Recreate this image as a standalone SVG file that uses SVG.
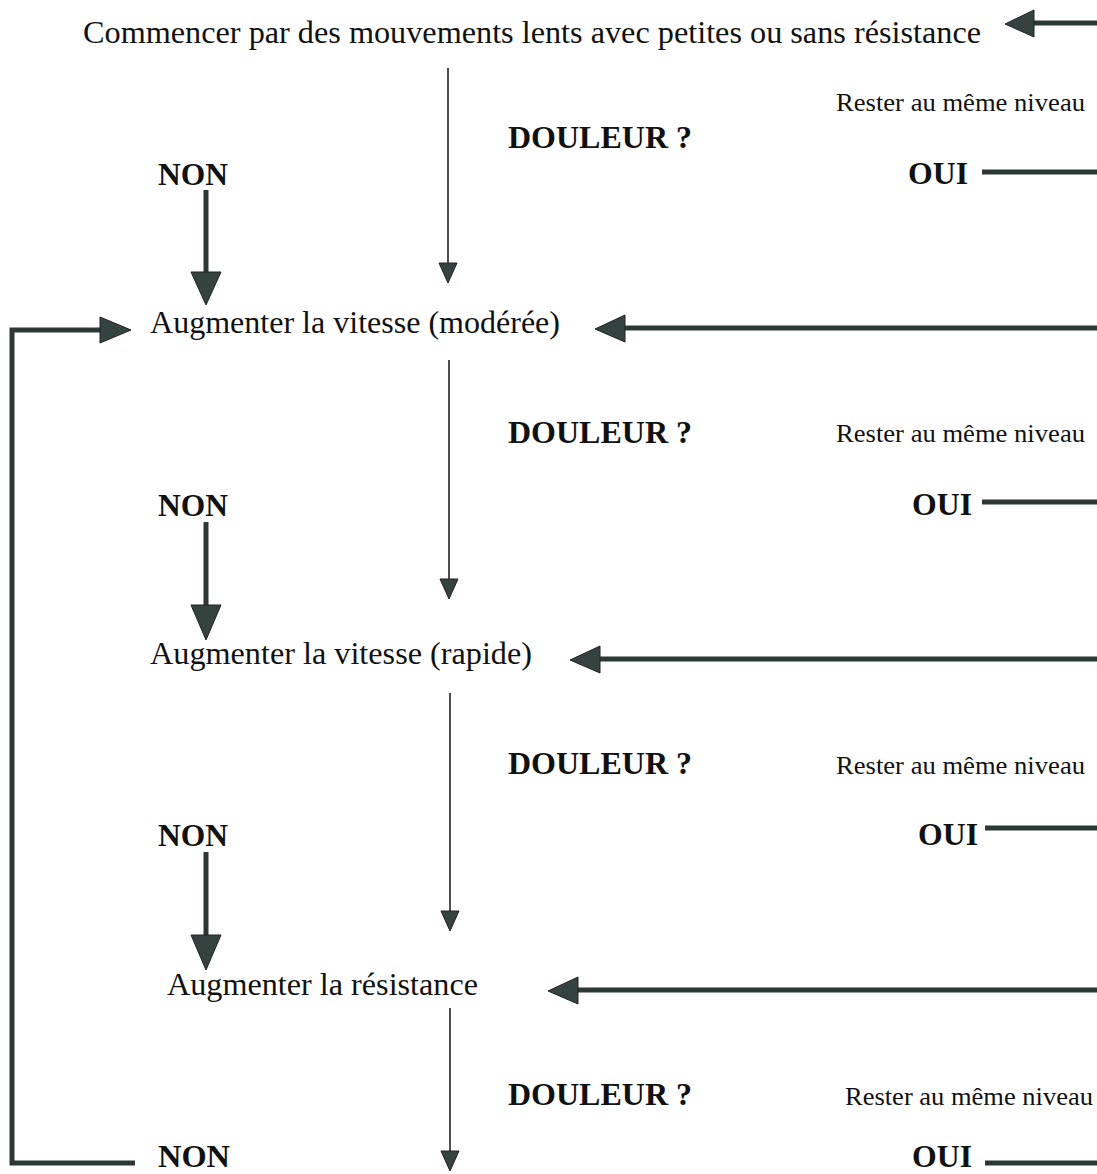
<svg xmlns="http://www.w3.org/2000/svg" width="1097" height="1174" viewBox="0 0 1097 1174">
<style>
.t{font-family:"Liberation Serif","Times New Roman",serif;fill:#111;}
.main{font-size:32px;}
.q{font-size:31px;font-weight:bold;}
.small{font-size:25px;}
.thin{stroke:#222;stroke-width:1.6;fill:none;}
.thick{stroke:#2c3834;stroke-width:5;fill:none;}
.head{fill:#344340;stroke:#222;stroke-width:1;}
</style>
<rect width="1097" height="1174" fill="#fff"/>
<g id="n1"><text class="t main" x="83" y="43" textLength="898" lengthAdjust="spacingAndGlyphs">Commencer par des mouvements lents avec petites ou sans résistance</text></g>
<g id="n2"><text class="t main" x="150" y="333" textLength="410" lengthAdjust="spacingAndGlyphs">Augmenter la vitesse (modérée)</text></g>
<g id="n3"><text class="t main" x="150" y="664" textLength="382" lengthAdjust="spacingAndGlyphs">Augmenter la vitesse (rapide)</text></g>
<g id="n4"><text class="t main" x="167" y="995" textLength="311" lengthAdjust="spacingAndGlyphs">Augmenter la résistance</text></g>
<g id="labels">
<text class="t q" x="508" y="148" textLength="184" lengthAdjust="spacingAndGlyphs">DOULEUR ?</text>
<text class="t small" x="836" y="111" textLength="249" lengthAdjust="spacingAndGlyphs">Rester au même niveau</text>
<text class="t q" x="158" y="185" textLength="70" lengthAdjust="spacingAndGlyphs">NON</text>
<text class="t q" x="908" y="184" textLength="60" lengthAdjust="spacingAndGlyphs">OUI</text>
<text class="t q" x="508" y="443" textLength="184" lengthAdjust="spacingAndGlyphs">DOULEUR ?</text>
<text class="t small" x="836" y="442" textLength="249" lengthAdjust="spacingAndGlyphs">Rester au même niveau</text>
<text class="t q" x="158" y="516" textLength="70" lengthAdjust="spacingAndGlyphs">NON</text>
<text class="t q" x="912" y="515" textLength="60" lengthAdjust="spacingAndGlyphs">OUI</text>
<text class="t q" x="508" y="774" textLength="184" lengthAdjust="spacingAndGlyphs">DOULEUR ?</text>
<text class="t small" x="836" y="774" textLength="249" lengthAdjust="spacingAndGlyphs">Rester au même niveau</text>
<text class="t q" x="158" y="846" textLength="70" lengthAdjust="spacingAndGlyphs">NON</text>
<text class="t q" x="918" y="845" textLength="60" lengthAdjust="spacingAndGlyphs">OUI</text>
<text class="t q" x="508" y="1105" textLength="184" lengthAdjust="spacingAndGlyphs">DOULEUR ?</text>
<text class="t small" x="845" y="1105" textLength="248" lengthAdjust="spacingAndGlyphs">Rester au même niveau</text>
<text class="t q" x="158" y="1167" textLength="72" lengthAdjust="spacingAndGlyphs">NON</text>
<text class="t q" x="912" y="1167" textLength="60" lengthAdjust="spacingAndGlyphs">OUI</text>
</g>
<g id="connectors">
<line class="thin" x1="448" y1="68" x2="448" y2="264"/>
<polygon class="head" points="439,263 457,263 448,283"/>
<line class="thin" x1="449" y1="360" x2="449" y2="580"/>
<polygon class="head" points="440,579 458,579 449,599"/>
<line class="thin" x1="450" y1="693" x2="450" y2="912"/>
<polygon class="head" points="441,911 459,911 450,931"/>
<line class="thin" x1="450" y1="1008" x2="450" y2="1152"/>
<polygon class="head" points="441,1151 459,1151 450,1171"/>
<line class="thick" x1="206" y1="190" x2="206" y2="275"/>
<polygon class="head" points="191,272 221,272 206,305"/>
<line class="thick" x1="206" y1="522" x2="206" y2="608"/>
<polygon class="head" points="191,605 221,605 206,640"/>
<line class="thick" x1="206" y1="852" x2="206" y2="938"/>
<polygon class="head" points="191,935 221,935 206,970"/>
<line class="thick" x1="982" y1="172" x2="1097" y2="172"/>
<line class="thick" x1="982" y1="502" x2="1097" y2="502"/>
<line class="thick" x1="985" y1="828" x2="1097" y2="828"/>
<line class="thick" x1="985" y1="1163" x2="1097" y2="1163"/>
<line class="thick" x1="1097" y1="23" x2="1030" y2="23"/>
<polygon class="head" points="1034,10 1034,37 1005,24"/>
<line class="thick" x1="1097" y1="328" x2="620" y2="328"/>
<polygon class="head" points="625,315 625,342 595,329"/>
<line class="thick" x1="1097" y1="659" x2="595" y2="659"/>
<polygon class="head" points="600,646 600,673 570,660"/>
<line class="thick" x1="1097" y1="990" x2="573" y2="990"/>
<polygon class="head" points="578,977 578,1004 548,991"/>
<polyline class="thick" points="135,1163 12,1163 12,330 104,330"/>
<polygon class="head" points="100,317 100,343 131,330"/>
</g>
</svg>
